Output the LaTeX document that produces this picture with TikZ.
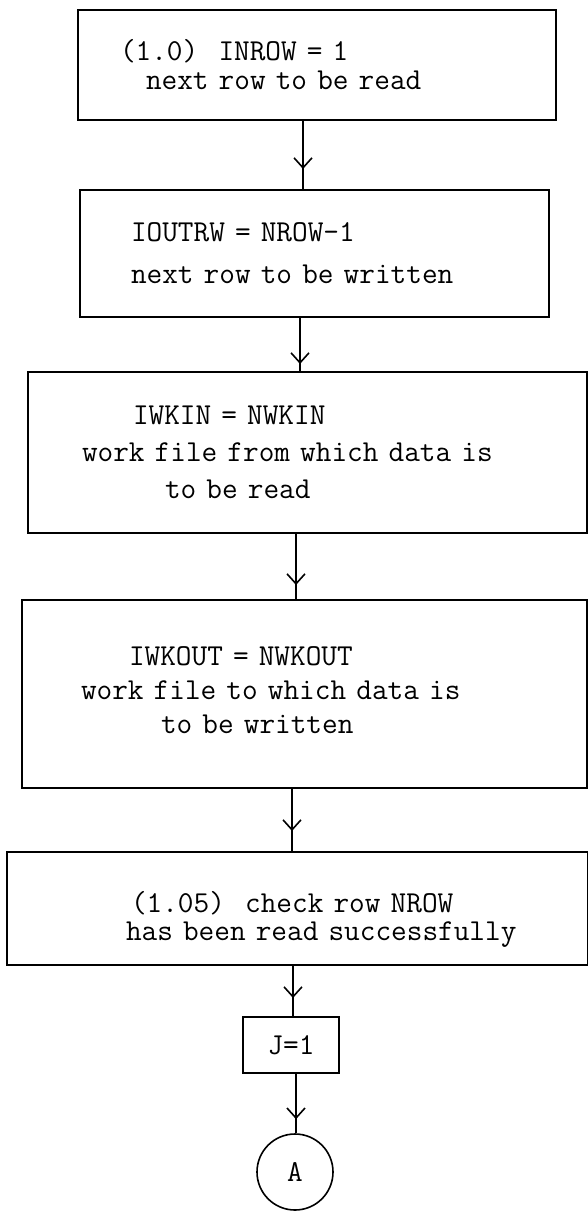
\documentclass[tikz,border=0pt]{standalone}
\usepackage{fontspec}
\usetikzlibrary{arrows.meta, decorations.markings}
\newcommand{\typed}[1]{\ttfamily\fontsize{15.2pt}{#1}\selectfont\lineskiplimit=-20pt}
\tikzset{
  stepbox/.style={draw, line width=1pt, align=left, inner ysep=0pt},
  arr/.style={line width=0.8pt, postaction={decorate},
    decoration={markings, mark=at position -#1 with {\arrow{Straight Barb[length=5pt, width=9pt, line width=0.8pt]}}}},
  arr/.default=7pt,
}
\begin{document}
\begin{tikzpicture}[x=0.5pt, y=-0.5pt]
  \useasboundingbox (0,0) rectangle (588,1214);
  % the five steps
  \node[stepbox, font=\typed{14.5pt}, text width=197pt, inner xsep=21pt, minimum height=55pt] (init) at (317,65)
    {(1.0)~~INROW = 1\\\hspace*{13pt}next row to be read};
  \node[stepbox, font=\typed{21pt}, text width=183.5pt, inner xsep=25.5pt, minimum height=63.5pt] (outrow) at (314.5,253.5)
    {IOUTRW = NROW-1\\next row to be written};
  \node[stepbox, font=\typed{18.5pt}, text width=225.5pt, inner xsep=27pt, minimum height=80.5pt] (inwork) at (307.5,452.5)
    {\hspace*{25.5pt}IWKIN = NWKIN\\work file from which data is\\\hspace*{41.5pt}to be read};
  \node[stepbox, font=\typed{17pt}, text width=223.5pt, inner xsep=29.5pt, minimum height=94pt] (outwork) at (304.5,694)
    {\hspace*{24pt}IWKOUT = NWKOUT\\work file to which data is\\\hspace*{40pt}to be written\rule[-4pt]{0pt}{4pt}};
  \node[stepbox, font=\typed{14pt}, text width=246.5pt, inner xsep=22pt, minimum height=56.5pt] (check) at (297.5,908.5)
    {\rule{0pt}{21pt}\hspace*{40pt}(1.05)~~check row NROW\\\hspace*{37.5pt}has been read successfully};
  \node[stepbox, font=\typed{14pt}, align=center, minimum width=48pt, minimum height=28pt, inner xsep=0pt] (jset) at (291,1045) {J=1};
  \node[draw, circle, line width=0.8pt, minimum size=38pt, inner sep=0pt, font=\typed{14pt}] (conn) at (295,1172) {A};
  % flow
  \draw[arr=10pt] (init.south -| 303,0) -- (outrow.north -| 303,0);
  \draw[arr=3.5pt] (outrow.south -| 300,0) -- (inwork.north -| 300,0);
  \draw[arr=7pt] (inwork.south -| 296,0) -- (outwork.north -| 296,0);
  \draw[arr=10pt] (outwork.south -| 292,0) -- (check.north -| 292,0);
  \draw[arr=9pt] (check.south -| 293,0) -- (jset.north -| 293,0);
  \draw[arr=7pt] (jset.south -| 296,0) -- (conn.north -| 296,0);
\end{tikzpicture}
\end{document}
